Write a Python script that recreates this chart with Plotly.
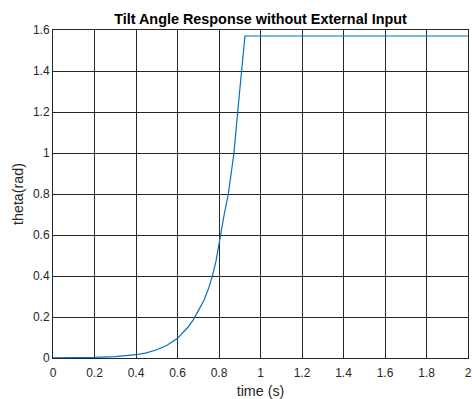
import plotly.graph_objects as go

# Data
time_s = [0.0, 0.1, 0.2, 0.3, 0.4, 0.45, 0.5, 0.55, 0.6, 0.65, 0.675, 0.7,
          0.728, 0.75, 0.768, 0.785, 0.8, 0.806, 0.825, 0.845, 0.853, 0.872,
          0.89, 0.909, 0.925, 1.0, 1.2, 1.4, 1.6, 1.8, 2.0]
theta_rad = [0.0005, 0.001, 0.003, 0.007, 0.016, 0.025, 0.040, 0.062, 0.096,
             0.15, 0.185, 0.23, 0.283, 0.34, 0.40, 0.47, 0.56, 0.60, 0.70,
             0.80, 0.868, 1.0, 1.2, 1.4, 1.5708, 1.5708, 1.5708, 1.5708,
             1.5708, 1.5708, 1.5708]

x_ticks = [0, 0.2, 0.4, 0.6, 0.8, 1, 1.2, 1.4, 1.6, 1.8, 2]
x_labels = ["0", "0.2", "0.4", "0.6", "0.8", "1", "1.2", "1.4", "1.6", "1.8", "2"]
y_ticks = [0, 0.2, 0.4, 0.6, 0.8, 1, 1.2, 1.4, 1.6]
y_labels = ["0", "0.2", "0.4", "0.6", "0.8", "1", "1.2", "1.4", "1.6"]

title_text = "Tilt Angle Response without External Input"
x_title = "time (s)"
y_title = "theta(rad)"

font_family = "Liberation Sans, Arial, Helvetica, sans-serif"
axis_color = "#262626"

fig = go.Figure()
fig.add_trace(go.Scatter(
    x=time_s, y=theta_rad, mode="lines",
    line=dict(color="#0072BD", width=1.2),
    showlegend=False, hoverinfo="skip",
))

fig.update_layout(
    width=472, height=399,
    margin=dict(l=53, r=4, t=30, b=41, autoexpand=False),
    paper_bgcolor="white", plot_bgcolor="white",
    font=dict(family=font_family, size=12, color=axis_color),
    title=dict(text="<b>" + title_text + "</b>", x=0.5, xref="paper",
               y=1, yref="paper", yanchor="bottom", pad=dict(b=6),
               font=dict(family=font_family, size=14.4, color="black"),
               automargin=False),
)

fig.update_xaxes(
    range=[0, 2], tickvals=x_ticks, ticktext=x_labels,
    showgrid=True, gridcolor=axis_color, gridwidth=1,
    showline=True, linecolor=axis_color, linewidth=1, mirror=True,
    zeroline=False, ticks="", automargin=False, ticklabelstandoff=4,
    ticklabeloverflow="allow",
    title=dict(text=x_title, font=dict(size=14.3, color=axis_color), standoff=8),
    tickfont=dict(size=12, color=axis_color),
)
fig.update_yaxes(
    range=[0, 1.6], tickvals=y_ticks, ticktext=y_labels,
    showgrid=True, gridcolor=axis_color, gridwidth=1,
    showline=True, linecolor=axis_color, linewidth=1, mirror=True,
    zeroline=False, ticks="", automargin=False, ticklabeloverflow="allow",
    title=dict(text=y_title, font=dict(size=14.3, color=axis_color), standoff=5),
    tickfont=dict(size=12, color=axis_color),
)

# Remove the browser's default 8px body margin so the 472x399 figure fills the window.
fig.write_html("out.html",
               config={"displayModeBar": False},
               post_script="document.body.style.margin='0px';document.body.style.overflow='hidden';")
